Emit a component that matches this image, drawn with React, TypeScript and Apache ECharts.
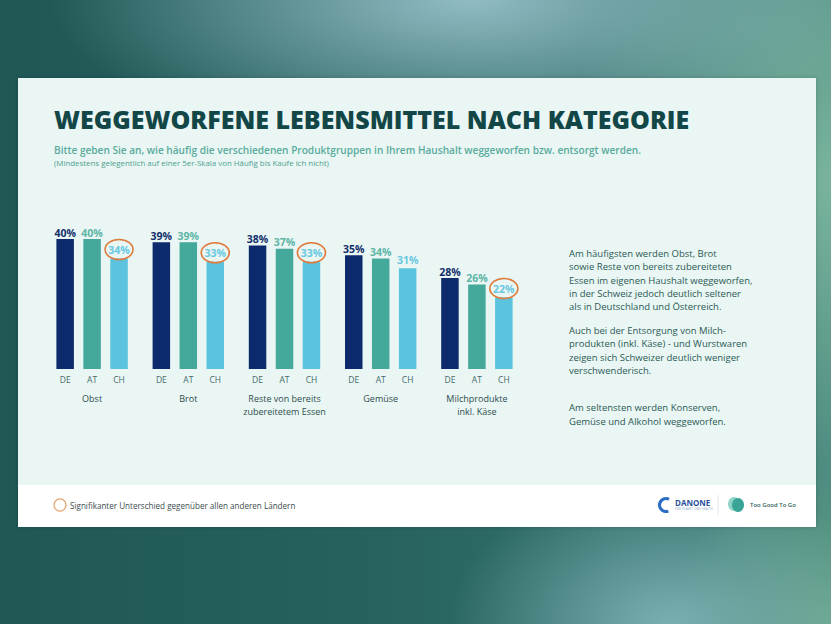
import React, { useEffect, useRef } from "react";
import * as echarts from "echarts";

const categories = [
  "Obst",
  "Brot",
  "Reste von bereits\nzubereitetem Essen",
  "Gemüse",
  "Milchprodukte\ninkl. Käse",
];
const countries = ["DE", "AT", "CH"];
const valuesDE = [40, 39, 38, 35, 28];
const valuesAT = [40, 39, 37, 34, 26];
const valuesCH = [34, 33, 33, 31, 22];
const significantCH = [1, 1, 1, 0, 1];

const title = "WEGGEWORFENE LEBENSMITTEL NACH KATEGORIE";
const subtitle =
  "Bitte geben Sie an, wie häufig die verschiedenen Produktgruppen in Ihrem Haushalt weggeworfen bzw. entsorgt werden.";
const note = "(Mindestens gelegentlich auf einer 5er-Skala von Häufig bis Kaufe ich nicht)";
const paragraphs = [
  "Am häufigsten werden Obst, Brot\nsowie Reste von bereits zubereiteten\nEssen im eigenen Haushalt weggeworfen,\nin der Schweiz jedoch deutlich seltener\nals in Deutschland und Österreich.",
  "Auch bei der Entsorgung von Milch-\nprodukten (inkl. Käse) - und Wurstwaren\nzeigen sich Schweizer deutlich weniger\nverschwenderisch.",
  "Am seltensten werden Konserven,\nGemüse und Alkohol weggeworfen.",
];
const legendText = "Signifikanter Unterschied gegenüber allen anderen Ländern";

const COLORS = ["#0d2a6c", "#44a99b", "#5cc3df"];
const LABEL_COLORS = ["#132f6a", "#5db5a6", "#6ac8e1"];
const BAR_W = 17.5;
const BAR_GAP = 0.54;
const FONT = "'Open Sans', 'Noto Sans', sans-serif";

export default function App() {
  const ref = useRef<HTMLDivElement>(null);
  useEffect(() => {
    if (!ref.current) return;
    const chart = echarts.init(ref.current, undefined, { renderer: "svg" });
    const seriesValues = [valuesDE, valuesAT, valuesCH];
    const step = BAR_W * (1 + BAR_GAP);
    const option: any = {
      animation: false,
      textStyle: { fontFamily: FONT },
      grid: { left: 44, width: 481, top: 206.5, height: 162.5, containLabel: false },
      xAxis: {
        type: "category",
        data: categories,
        axisLine: { show: false },
        axisTick: { show: false },
        axisLabel: {
          margin: 23,
          fontSize: 9,
          lineHeight: 13,
          color: "#2f4d4d",
          fontFamily: FONT,
          interval: 0,
        },
      },
      yAxis: { type: "value", min: 0, max: 50, show: false },
      graphic: [
        {
          type: "rect",
          z: -10,
          shape: { x: 18, y: 78, width: 798, height: 449 },
          style: { fill: "#e9f6f4", shadowBlur: 4, shadowColor: "rgba(0,0,0,0.18)" },
        },
        {
          type: "rect",
          z: -9,
          shape: { x: 18, y: 485, width: 798, height: 42 },
          style: { fill: "#ffffff" },
        },
        {
          type: "text",
          x: 54,
          y: 119,
          style: {
            text: title,
            fill: "#134747",
            font: `800 25px ${FONT}`,
            verticalAlign: "middle",
          },
        },
        {
          type: "text",
          x: 54,
          y: 150,
          style: {
            text: subtitle,
            fill: "#5aab9c",
            font: `600 10.1px ${FONT}`,
            verticalAlign: "middle",
          },
        },
        {
          type: "text",
          x: 54,
          y: 163,
          style: {
            text: note,
            fill: "#4e9f90",
            font: `400 7.9px ${FONT}`,
            verticalAlign: "middle",
          },
        },
        ...paragraphs.map((p, i) => ({
          type: "text",
          x: 569,
          y: [246.5, 323.5, 401][i],
          style: {
            text: p,
            fill: "#2b5a55",
            font: `400 9.5px ${FONT}`,
            lineHeight: 13.4,
            verticalAlign: "top",
          },
        })),
        {
          type: "circle",
          shape: { cx: 60, cy: 505, r: 6 },
          style: { fill: "#ffffff", stroke: "#e8a56e", lineWidth: 1.2 },
        },
        {
          type: "text",
          x: 70,
          y: 505,
          style: {
            text: legendText,
            fill: "#3b4c4c",
            font: `400 8.1px ${FONT}`,
            verticalAlign: "middle",
          },
        },
        {
          type: "arc",
          shape: { cx: 666, cy: 505, r: 6.5, startAngle: 1.2, endAngle: 5.2 },
          style: { stroke: "#2b6cc4", lineWidth: 3, fill: "none" },
        },
        {
          type: "text",
          x: 675,
          y: 502,
          style: { text: "DANONE", fill: "#2b4f9e", font: `700 8px ${FONT}`, verticalAlign: "middle" },
        },
        {
          type: "text",
          x: 675,
          y: 509,
          style: {
            text: "ONE PLANET. ONE HEALTH",
            fill: "#8ea6c8",
            font: `400 3px ${FONT}`,
            verticalAlign: "middle",
          },
        },
        {
          type: "line",
          shape: { x1: 718, y1: 495, x2: 718, y2: 515 },
          style: { stroke: "#e3e9e9", lineWidth: 1 },
        },
        {
          type: "ellipse",
          shape: { cx: 734, cy: 504, rx: 6, ry: 7 },
          style: { fill: "#8fd4c6" },
        },
        {
          type: "ellipse",
          shape: { cx: 738, cy: 505, rx: 6, ry: 7 },
          style: { fill: "#3aa596" },
        },
        {
          type: "text",
          x: 750,
          y: 505,
          style: { text: "Too Good To Go", fill: "#2e5e58", font: `600 6px ${FONT}`, verticalAlign: "middle" },
        },
      ],
      series: [
        ...countries.map((c, k) => ({
          type: "bar",
          name: c,
          data: seriesValues[k],
          barWidth: BAR_W,
          barGap: `${BAR_GAP * 100}%`,
          itemStyle: { color: COLORS[k] },
          label: {
            show: true,
            position: "top",
            distance: k === 2 ? 3 : 1,
            formatter: "{c}%",
            color: LABEL_COLORS[k],
            fontSize: 10.5,
            fontWeight: "bold",
            fontFamily: FONT,
          },
        })),
        {
          type: "custom",
          name: "labels",
          z: 10,
          encode: { x: 0, y: 1 },
          data: categories.map((_, i) => [i, valuesCH[i], significantCH[i]]),
          renderItem: (params: any, api: any) => {
            const i = api.value(0);
            const base = api.coord([i, 0]);
            const top = api.coord([i, api.value(1)]);
            const children: any[] = countries.map((c, k) => ({
              type: "text",
              x: base[0] + (k - 1) * step,
              y: base[1] + 10,
              style: {
                text: c,
                fill: "#476a6a",
                font: `400 8.5px ${FONT}`,
                align: "center",
                verticalAlign: "middle",
              },
            }));
            if (api.value(2)) {
              children.push({
                type: "ellipse",
                shape: { cx: base[0] + step, cy: top[1] - 9, rx: 14, ry: 10 },
                style: { fill: "none", stroke: "#df7a3a", lineWidth: 1.6 },
              });
            }
            return { type: "group", children };
          },
        },
      ],
    };
    chart.setOption(option);
    return () => chart.dispose();
  }, []);

  return (
    <div
      style={{
        position: "fixed",
        left: 0,
        top: 0,
        width: 831,
        height: 624,
        overflow: "hidden",
        background:
          "radial-gradient(ellipse 420px 150px at 470px 0px, rgba(150,192,200,0.95), rgba(150,192,200,0) 100%)," +
          "radial-gradient(ellipse 260px 420px at 831px 180px, rgba(125,183,160,0.95), rgba(125,183,160,0) 100%)," +
          "radial-gradient(ellipse 220px 150px at 670px 624px, rgba(130,182,185,0.9), rgba(130,182,185,0) 100%)," +
          "radial-gradient(ellipse 160px 160px at 831px 624px, rgba(110,170,140,0.9), rgba(110,170,140,0) 100%)," +
          "linear-gradient(90deg, #1f5755 0%, #27625f 45%, #3a7a73 100%)",
      }}
    >
      <div ref={ref} style={{ width: 831, height: 624 }} />
    </div>
  );
}
